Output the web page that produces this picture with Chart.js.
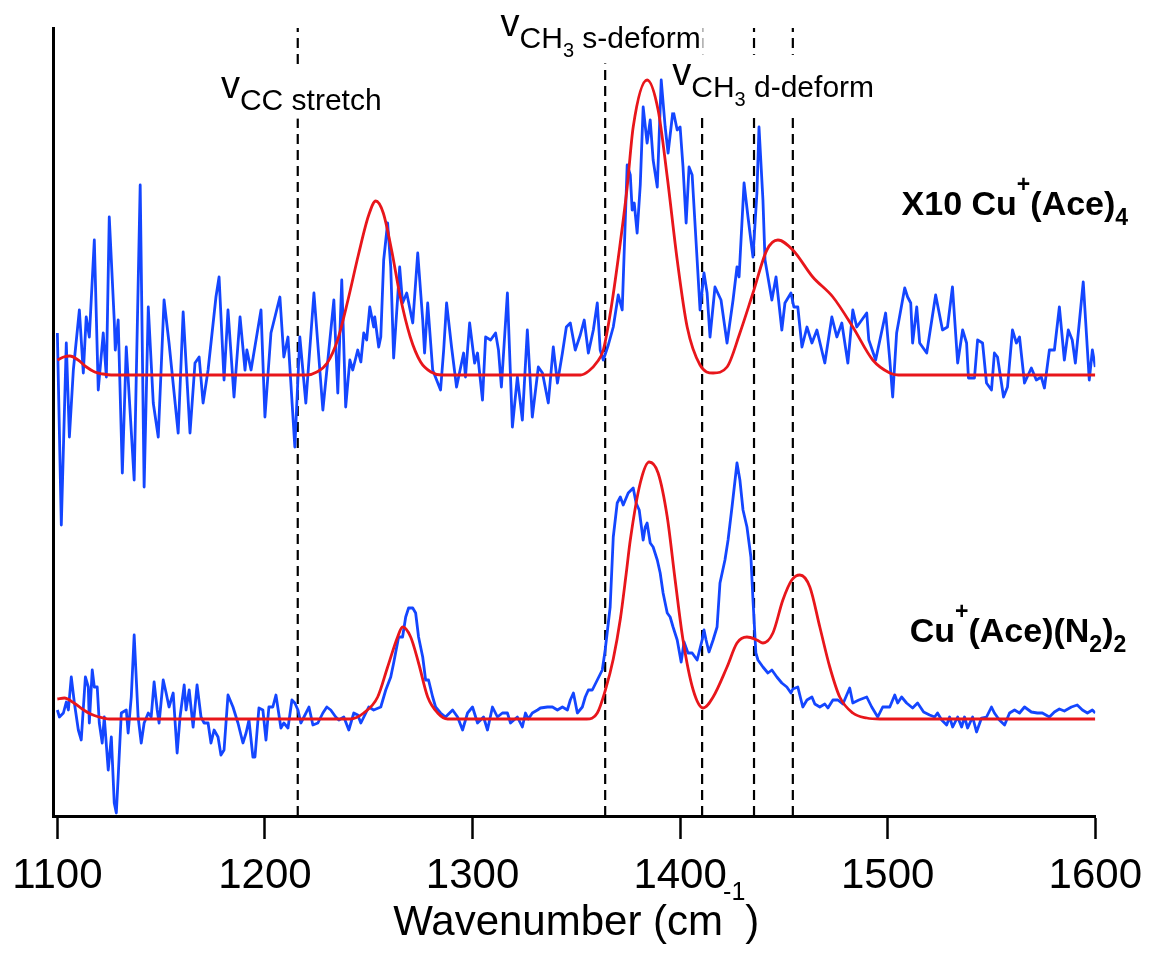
<!DOCTYPE html>
<html>
<head>
<meta charset="utf-8">
<title>Cu+(Ace) IR spectra</title>
<script src="https://cdn.jsdelivr.net/npm/chart.js@4.4.1/dist/chart.umd.min.js"></script>
<style>
  html, body { margin: 0; padding: 0; background: #fff; }
  #wrap { width: 1154px; height: 965px; position: relative; }
</style>
</head>
<body>
<div id="wrap"><canvas id="spectra"></canvas></div>
<script>
// axis range / ticks
const X_TICKS = [1100, 1200, 1300, 1400, 1500, 1600];
const X_MIN = 1098, X_MAX = 1600;
const Y_MIN = -0.97, Y_MAX = 6.91;
const TOP_OFFSET = 3.44;   // the X10 Cu+(Ace)4 trace sits above the other one

// X10 Cu+(Ace)4 : experiment (blue)
const TOP_WN = [1100.0,1101.9,1104.3,1105.8,1107.7,1110.6,1112.5,1113.9,1115.4,1117.8,1119.7,1122.1,1123.6,1125.0,1127.4,1127.9,1129.3,1131.3,1133.2,1137.0,1139.9,1141.8,1143.8,1146.2,1148.6,1151.4,1153.8,1158.2,1160.6,1163.9,1166.3,1168.3,1170.2,1172.6,1176.4,1177.9,1180.3,1182.2,1185.1,1188.0,1190.4,1191.3,1193.3,1198.1,1200.0,1202.9,1207.2,1209.1,1211.1,1214.4,1216.8,1219.7,1223.6,1227.9,1233.2,1235.1,1237.0,1238.9,1240.9,1242.3,1244.7,1246.2,1247.6,1249.0,1250.5,1252.4,1252.9,1254.8,1255.8,1257.2,1259.1,1260.6,1262.0,1264.9,1266.3,1268.3,1271.2,1273.6,1276.0,1276.9,1278.4,1280.8,1282.7,1284.6,1286.1,1287.5,1289.9,1292.3,1295.7,1296.6,1298.6,1301.0,1302.4,1304.8,1306.3,1308.7,1311.1,1312.5,1313.9,1316.8,1319.2,1321.6,1324.0,1326.4,1328.8,1331.7,1333.7,1336.5,1338.9,1340.9,1343.3,1345.2,1347.1,1349.5,1351.9,1353.8,1355.8,1358.2,1360.1,1361.5,1363.0,1365.4,1367.8,1370.2,1372.1,1374.5,1376.0,1376.9,1377.9,1379.3,1380.8,1382.2,1384.1,1385.6,1387.0,1389.0,1390.9,1392.8,1394.2,1396.6,1398.6,1400.0,1401.4,1402.9,1404.3,1405.8,1408.2,1409.6,1411.5,1413.0,1414.4,1416.8,1419.7,1422.6,1425.5,1427.4,1428.4,1430.8,1432.7,1435.1,1437.0,1438.0,1439.9,1440.9,1442.3,1444.2,1446.2,1449.0,1450.5,1453.4,1454.8,1456.7,1458.7,1461.1,1463.5,1465.9,1469.7,1473.1,1475.5,1477.9,1480.8,1483.2,1485.1,1489.9,1490.9,1494.2,1499.0,1501.0,1502.4,1504.3,1508.2,1509.6,1511.1,1512.0,1514.0,1515.4,1518.8,1523.1,1526.4,1528.8,1531.2,1533.7,1536.1,1538.0,1538.9,1541.8,1543.3,1545.7,1547.6,1550.0,1551.4,1552.9,1555.8,1557.7,1560.1,1562.0,1563.5,1565.9,1569.2,1571.6,1574.0,1575.5,1577.9,1580.3,1582.7,1585.1,1587.0,1588.9,1590.4,1594.2,1597.1,1598.6,1600.0];
const TOP_EXP = [0.42,-1.50,0.32,-0.62,0.05,0.65,0.02,0.58,0.38,1.35,-0.15,0.42,-0.02,1.58,0.55,0.25,0.55,-0.98,0.28,-1.05,1.90,-1.12,0.68,-0.28,-0.62,0.75,0.32,-0.58,0.63,-0.58,0.12,0.18,-0.28,0.05,0.78,0.98,-0.05,0.65,-0.22,0.58,0.05,0.25,0.05,0.65,-0.42,0.42,0.78,0.18,0.38,-0.72,0.38,-0.28,0.82,-0.35,0.75,-0.18,0.95,-0.32,0.15,0.05,0.25,0.13,0.42,0.35,0.68,0.48,0.58,0.28,0.38,1.15,1.52,1.08,0.17,1.08,0.72,0.82,0.52,1.22,0.55,0.22,0.72,0.05,-0.05,-0.15,0.25,0.72,0.28,-0.12,0.22,-0.02,0.52,0.12,0.22,-0.25,0.38,0.35,0.42,0.25,-0.12,0.82,-0.52,-0.02,-0.45,0.45,-0.42,0.08,0.02,-0.28,0.28,-0.08,0.22,0.48,0.52,0.25,0.40,0.55,0.22,0.45,0.72,0.25,0.15,0.30,0.48,0.80,0.65,2.10,2.00,1.65,1.72,1.42,1.90,2.68,2.32,2.55,2.15,1.88,2.95,2.48,2.22,2.65,2.45,2.48,2.08,1.52,2.08,2.00,1.15,0.65,1.02,0.82,0.38,0.88,0.75,0.32,0.75,1.08,0.98,1.92,1.58,1.18,1.82,2.48,1.75,1.15,0.98,0.75,0.98,0.45,0.72,0.82,0.68,0.68,0.28,0.48,0.32,0.45,0.12,0.58,0.38,0.52,0.12,0.65,0.48,0.62,0.35,0.15,0.62,0.15,-0.22,0.42,0.87,0.78,0.72,0.32,0.68,0.32,0.22,0.80,0.45,0.48,0.88,0.12,0.45,0.32,-0.03,-0.03,0.35,0.32,-0.08,-0.15,0.22,0.18,-0.22,-0.12,0.45,0.32,0.38,-0.08,0.07,-0.05,-0.02,-0.13,0.25,0.25,0.68,0.15,0.45,0.35,0.12,0.93,-0.05,0.25,0.08];

// X10 Cu+(Ace)4 : calculated (red)
const TOP_FIT_WN = [1100,1103,1106,1110,1114,1118,1122,1126,1220,1225,1230,1235,1240,1245,1250,1253.4,1257,1261,1265,1270,1275,1280,1285,1352,1356,1360,1363,1367,1372.6,1374.5,1377.4,1384.1,1389.4,1393.8,1398.6,1403.4,1409.6,1415.9,1422.6,1428.8,1435.1,1441.8,1447.1,1454.3,1463.9,1473.6,1483.2,1492.8,1501.0,1505,1600];
const TOP_FIT = [0.15,0.18,0.19,0.15,0.08,0.03,0.01,0,0,0.03,0.12,0.35,0.75,1.20,1.60,1.74,1.62,1.25,0.80,0.38,0.13,0.03,0,0,0.04,0.13,0.25,0.70,1.55,1.88,2.48,2.95,2.65,1.98,1.15,0.48,0.10,0.02,0.08,0.42,0.82,1.25,1.35,1.25,0.98,0.78,0.48,0.15,0.02,0,0];

// Cu+(Ace)(N2)2 : experiment (blue)
const BOT_WN = [1100.0,1101.0,1102.9,1104.3,1105.3,1106.7,1108.2,1110.1,1111.5,1113.5,1114.9,1115.4,1116.8,1117.8,1119.2,1120.2,1121.6,1122.6,1124.5,1126.0,1127.4,1128.4,1129.3,1130.8,1133.2,1134.1,1135.6,1137.0,1138.9,1140.4,1141.8,1143.8,1145.2,1146.6,1148.1,1149.0,1151.0,1152.4,1153.8,1155.8,1157.7,1159.1,1161.1,1162.0,1163.5,1165.4,1167.3,1169.2,1170.7,1172.6,1174.0,1175.5,1177.4,1178.8,1180.3,1182.2,1184.6,1187.0,1189.4,1190.9,1192.3,1194.2,1195.2,1197.1,1199.0,1200.5,1201.9,1203.8,1205.3,1207.7,1209.1,1211.1,1213.0,1214.4,1215.9,1217.3,1218.8,1221.2,1223.1,1225.5,1227.9,1229.8,1231.7,1234.1,1235.6,1238.0,1240.4,1242.8,1244.7,1246.2,1248.6,1250.0,1252.4,1255.8,1258.2,1260.6,1262.0,1264.4,1266.3,1267.8,1269.2,1271.2,1272.6,1274.0,1276.0,1277.4,1278.8,1280.8,1282.2,1284.6,1287.0,1290.4,1292.8,1295.2,1297.6,1300.0,1302.4,1305.3,1307.2,1309.6,1312.0,1314.4,1316.8,1318.3,1321.6,1324.0,1325.5,1326.9,1328.8,1331.3,1332.7,1336.1,1338.5,1340.9,1343.3,1345.7,1347.1,1348.6,1350.5,1352.9,1354.3,1355.8,1357.7,1360.1,1362.5,1363.9,1366.3,1367.8,1369.7,1371.2,1372.6,1375.0,1377.4,1378.8,1380.3,1382.2,1383.2,1384.1,1385.6,1387.0,1389.0,1390.4,1391.8,1393.8,1395.2,1396.6,1398.6,1400.5,1401.9,1403.8,1405.8,1408.2,1410.6,1411.5,1412.5,1413.9,1415.9,1417.8,1419.2,1421.6,1423.1,1425.0,1427.4,1428.8,1430.3,1432.2,1434.1,1435.1,1436.5,1437.5,1439.9,1442.3,1444.2,1446.6,1449.0,1451.4,1453.4,1454.3,1456.7,1459.1,1461.1,1463.5,1464.9,1467.3,1469.7,1471.2,1473.6,1476.0,1478.4,1481.7,1483.2,1486.1,1489.9,1492.3,1495.2,1497.6,1501.0,1503.4,1504.8,1506.7,1509.1,1512.0,1514.4,1517.3,1520.2,1522.6,1524.0,1526.0,1528.4,1529.8,1531.3,1533.7,1535.6,1537.0,1538.5,1540.9,1542.8,1545.2,1547.6,1550.0,1551.4,1553.8,1556.3,1558.7,1561.1,1563.5,1565.9,1569.2,1572.1,1574.5,1577.9,1580.3,1582.7,1585.1,1588.5,1591.3,1593.8,1596.2,1598.6,1600.0];
const BOT_EXP = [0.09,0.02,0.06,0.17,0.09,0.42,0.16,-0.11,-0.21,0.42,0.32,-0.04,0.49,0.32,0.32,-0.04,-0.24,0.02,-0.51,-0.18,-0.84,-0.94,-0.58,0.06,0.09,-0.14,0.22,0.84,0.02,-0.24,-0.04,0.06,0.02,0.37,0.09,-0.04,0.39,0.26,0.12,0.26,-0.34,0.02,0.34,0.09,0.29,-0.08,0.34,0.02,-0.04,-0.04,-0.24,-0.11,-0.18,-0.36,-0.31,0.24,0.12,-0.04,-0.24,-0.14,-0.01,-0.38,-0.38,0.11,0.09,-0.21,0.12,0.12,0.24,-0.09,-0.04,-0.09,0.19,0.16,0.09,-0.04,0.02,0.12,-0.06,-0.04,0.06,0.12,0.09,0.02,-0.01,0.02,-0.11,0.06,0.04,-0.04,0.06,0.12,0.09,0.12,0.29,0.42,0.56,0.82,0.82,1.02,1.11,1.11,1.06,0.82,0.62,0.39,0.39,0.22,0.12,0.06,0.02,0.09,0.02,-0.11,0.06,0.12,-0.04,0.02,-0.11,0.12,0.02,0.06,0.06,-0.04,0.02,-0.08,0.06,0.00,0.06,0.09,0.11,0.12,0.12,0.09,0.12,0.09,0.19,0.26,0.06,0.12,0.22,0.29,0.29,0.39,0.49,0.69,1.12,1.82,2.16,2.22,2.14,2.26,2.31,2.16,2.09,1.79,1.92,1.96,1.76,1.72,1.59,1.46,1.26,1.06,1.02,0.92,0.79,0.57,0.77,0.66,0.66,0.59,0.79,0.89,0.79,0.67,0.79,0.92,1.36,1.59,1.79,2.12,2.56,2.39,2.09,1.92,1.62,1.19,0.66,0.59,0.52,0.46,0.49,0.42,0.36,0.32,0.26,0.30,0.32,0.12,0.19,0.22,0.15,0.12,0.15,0.11,0.19,0.19,0.15,0.31,0.16,0.19,0.22,0.12,0.02,0.12,0.12,0.24,0.16,0.22,0.16,0.11,0.16,0.07,0.04,0.02,0.06,-0.01,-0.06,0.02,-0.08,0.02,-0.08,0.02,-0.09,0.02,-0.13,0.01,0.02,0.12,0.06,-0.01,-0.06,0.06,0.09,0.06,0.12,0.07,0.06,0.06,0.02,0.07,0.10,0.08,0.12,0.14,0.09,0.06,0.09,0.06];

// Cu+(Ace)(N2)2 : calculated (red)
const BOT_FIT_WN = [1100,1103.4,1108,1112,1116,1120,1125,1241,1247.6,1254.3,1259.1,1263.9,1266.3,1270.2,1274.0,1278.4,1283.2,1288.0,1355,1360.1,1364.0,1367.8,1371.2,1374.0,1376.0,1380.8,1385.1,1389.4,1393.8,1397.6,1401.4,1406.3,1411.1,1415.9,1422.6,1427.4,1432.2,1437.0,1439.9,1444.7,1449.5,1453.8,1457.7,1462.5,1467.3,1472.1,1476.9,1483.2,1489.9,1496.2,1600];
const BOT_FIT = [0.20,0.21,0.16,0.10,0.05,0.02,0,0,0.06,0.22,0.52,0.82,0.92,0.82,0.56,0.22,0.06,0,0,0.06,0.29,0.60,1.00,1.45,1.79,2.36,2.57,2.46,2.02,1.39,0.79,0.29,0.11,0.22,0.52,0.76,0.82,0.79,0.76,0.86,1.19,1.39,1.44,1.32,0.92,0.52,0.22,0.06,0.01,0,0];

// assigned vibrational modes (dashed markers)
const MODE_LINES = [1215.8, 1363.9, 1410.6, 1435.6, 1454.3];

// text annotations, anchored in data coordinates
const MODE_LABELS = [
  { x: 1178.8, y: 6.21, parts: [['v', 'nu'], ['CC stretch', 'sub']] },
  { x: 1313.5, y: 6.83, parts: [['v', 'nu'], ['CH', 'sub'], ['3', 'sub2'], [' s-deform', 'sub']] },
  { x: 1396.2, y: 6.34, parts: [['v', 'nu'], ['CH', 'sub'], ['3', 'sub2'], [' d-deform', 'sub']] }
];
const SPECIES_LABELS = [
  { x: 1506.7, y: 5.04, parts: [['X10 Cu', 'b'], ['+', 'bsup'], ['(Ace)', 'b'], ['4', 'bsub']] },
  { x: 1510.6, y: 0.77, parts: [['Cu', 'b'], ['+', 'bsup'], ['(Ace)(N', 'b'], ['2', 'bsub'], [')', 'b'], ['2', 'bsub']] }
];
const AXIS_TITLE = [['Wavenumber (cm', 'title'], ['-1', 'tsup'], [')', 'title']];

const FONT = "'Liberation Sans', Arial, Helvetica, sans-serif";
const BLUE = '#1446ff';
const RED = '#e8161b';

const STYLE = {
  nu:    { size: 38, bold: false, dy: 0 },
  sub:   { size: 30, bold: false, dy: 12 },
  sub2:  { size: 20, bold: false, dy: 21 },
  b:     { size: 34, bold: true,  dy: 0 },
  bsup:  { size: 23, bold: true,  dy: -23 },
  bsub:  { size: 23, bold: true,  dy: 10 },
  title: { size: 42, bold: false, dy: 0 },
  tsup:  { size: 25, bold: false, dy: -35 }
};

function layoutRuns(ctx, parts) {
  let w = 0;
  const runs = parts.map(([t, role]) => {
    const s = STYLE[role];
    const font = (s.bold ? 'bold ' : '') + s.size + 'px ' + FONT;
    ctx.font = font;
    const r = { t, s, font, dx: w };
    w += ctx.measureText(t).width;
    return r;
  });
  return { runs, width: w };
}

function drawRuns(ctx, runs, x, y) {
  runs.forEach(r => {
    ctx.font = r.font;
    ctx.fillText(r.t, x + r.dx, y + r.s.dy);
  });
}

const textPlugin = {
  id: 'richText',
  afterDatasetsDraw(chart) {
    const { ctx, scales: { x, y }, chartArea } = chart;
    ctx.save();
    ctx.textBaseline = 'alphabetic';
    ctx.textAlign = 'left';

    // mode labels sit on a white patch that hides the dashed markers
    MODE_LABELS.forEach(lab => {
      const px = x.getPixelForValue(lab.x), py = y.getPixelForValue(lab.y);
      const { runs, width } = layoutRuns(ctx, lab.parts);
      let top = 0, bot = 0;
      runs.forEach(r => {
        top = Math.min(top, r.s.dy - r.s.size * 0.74);
        bot = Math.max(bot, r.s.dy + r.s.size * 0.22);
      });
      ctx.fillStyle = '#fff';
      ctx.fillRect(px - 2, py + top - 2, width + 4, bot - top + 4);
      ctx.fillStyle = '#000';
      drawRuns(ctx, runs, px, py);
    });

    ctx.fillStyle = '#000';
    SPECIES_LABELS.forEach(lab => {
      const { runs } = layoutRuns(ctx, lab.parts);
      drawRuns(ctx, runs, x.getPixelForValue(lab.x), y.getPixelForValue(lab.y));
    });

    // x axis title with superscript
    const t = layoutRuns(ctx, AXIS_TITLE);
    const cx = (chartArea.left + chartArea.right) / 2;
    drawRuns(ctx, t.runs, cx - t.width / 2 + 2, chartArea.bottom + 119);
    ctx.restore();
  }
};

const toPoints = (xs, ys, off) => xs.map((v, i) => ({ x: v, y: ys[i] + off }));

const datasets = [];
MODE_LINES.forEach(w => {
  datasets.push({
    data: [{ x: w, y: Y_MIN }, { x: w, y: Y_MAX }],
    borderColor: '#000', borderWidth: 2.2, borderDash: [10, 6], order: 3
  });
});
datasets.push({ data: toPoints(TOP_WN, TOP_EXP, TOP_OFFSET), borderColor: BLUE, borderWidth: 2.8, tension: 0, order: 2 });
datasets.push({ data: toPoints(BOT_WN, BOT_EXP, 0), borderColor: BLUE, borderWidth: 2.8, tension: 0, order: 2 });
datasets.push({ data: toPoints(TOP_FIT_WN, TOP_FIT, TOP_OFFSET), borderColor: RED, borderWidth: 2.8, cubicInterpolationMode: 'monotone', order: 1 });
datasets.push({ data: toPoints(BOT_FIT_WN, BOT_FIT, 0), borderColor: RED, borderWidth: 2.8, cubicInterpolationMode: 'monotone', order: 1 });

new Chart(document.getElementById('spectra'), {
  type: 'line',
  data: { datasets },
  options: {
    responsive: true,
    maintainAspectRatio: false,
    animation: false,
    devicePixelRatio: 1,
    layout: { padding: { left: 52, right: 58, top: 28, bottom: 0 } },
    plugins: { legend: { display: false }, tooltip: { enabled: false } },
    elements: { point: { radius: 0 }, line: { fill: false, borderJoinStyle: 'round' } },
    scales: {
      x: {
        type: 'linear', min: X_MIN, max: X_MAX,
        afterBuildTicks: s => { s.ticks = X_TICKS.map(v => ({ value: v })); },
        afterFit: s => { s.height = 149; },
        grid: { display: true, drawOnChartArea: false, drawTicks: true, tickLength: 23, tickWidth: 2.5, tickColor: '#000' },
        border: { display: true, color: '#000', width: 3 },
        ticks: {
          color: '#000', padding: 12, maxRotation: 0, autoSkip: false,
          font: { family: FONT, size: 42 },
          callback: v => String(v)
        }
      },
      y: {
        type: 'linear', min: Y_MIN, max: Y_MAX,
        afterFit: s => { s.width = 0; },
        grid: { display: false, drawTicks: false },
        border: { display: true, color: '#000', width: 3 },
        ticks: { display: false }
      }
    }
  },
  plugins: [textPlugin]
});
</script>
</body>
</html>
